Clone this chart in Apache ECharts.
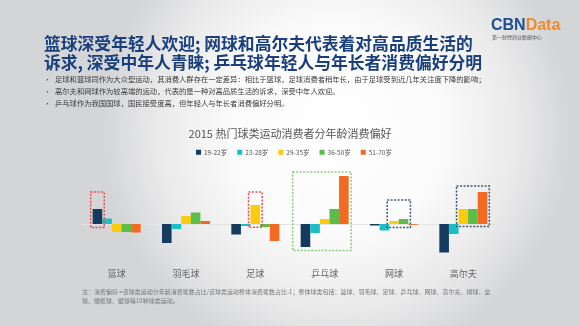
<!DOCTYPE html>
<html>
<head>
<meta charset="utf-8">
<script src="https://cdn.jsdelivr.net/npm/echarts@6/dist/echarts.min.js"></script>
<style>
  html, body { margin: 0; padding: 0; }
  #main { width: 580px; height: 326px; }
</style>
</head>
<body>
<div id="main"></div>
<script>
// Sports and age groups
const categories = ['篮球', '羽毛球', '足球', '乒乓球', '网球', '高尔夫'];
const ageGroups = ['19-22岁', '23-28岁', '29-35岁', '36-50岁', '51-70岁'];

// Consumption preference by age group (%), one array per age group
const age19_22 = [15, -19, -10.5, -23, -1.5, -28.5];
const age23_28 = [5.5, -5, -2, -9, -6.5, -10];
const age29_35 = [-8, 8, 19, 5, 3, 15];
const age36_50 = [-8, 11.5, -3, 15, 5, 15];
const age51_70 = [-8.5, 3, -17, 48, -0.8, 32];
const seriesValues = [age19_22, age23_28, age29_35, age36_50, age51_70];

// Highlight boxes: category, first/last age group covered, value range
const highlights = [
  { cat: 0, from: 0, to: 0, top: 32, bottom: -3.5, tone: 'red' },
  { cat: 2, from: 2, to: 2, top: 32, bottom: -3.3, tone: 'red' },
  { cat: 3, from: 0, to: 4, top: 52, bottom: -26.5, tone: 'green' },
  { cat: 4, from: 2, to: 3, top: 24, bottom: -3.5, tone: 'slate' },
  { cat: 5, from: 2, to: 4, top: 38, bottom: -2.5, tone: 'slate' }
];

const headline = [
  '篮球深受年轻人欢迎; 网球和高尔夫代表着对高品质生活的',
  '诉求, 深受中年人青睐; 乒乓球年轻人与年长者消费偏好分明'
];
const bullets = [
  '足球和篮球同作为大众型运动，其消费人群存在一定差异：相比于篮球，足球消费者稍年长，由于足球受到近几年关注度下降的影响；',
  '高尔夫和网球作为较高端的运动，代表的是一种对高品质生活的诉求，深受中年人欢迎。',
  '乒乓球作为我国国球，国民接受度高，但年轻人与年长者消费偏好分明。'
];
const chartTitle = '2015 热门球类运动消费者分年龄消费偏好';
const footnote = [
  '注：消费偏好 =该球类运动分年龄消费笔数占比/该球类运动整体消费笔数占比-1；整体球类包括：篮球、羽毛球、足球、乒乓球、网球、高尔夫、排球、垒',
  '球、橄榄球、壁球等10种球类运动。'
];

const palette = ['#143b5d', '#1bc0c6', '#fccb0c', '#5cbd48', '#f26a22'];
const toneColors = { red: '#e2505a', green: '#8ccf7b', slate: '#3f5a72' };
const BAR_W = 9.6;
const FONT = '"Noto Sans CJK SC", "Noto Sans", sans-serif';

const chart = echarts.init(document.getElementById('main'), null, { renderer: 'canvas' });

const barSeries = ageGroups.map((name, i) => ({
  name: name,
  type: 'bar',
  data: seriesValues[i],
  barWidth: BAR_W,
  barGap: '0%',
  itemStyle: { color: palette[i] },
  z: 2,
  markLine: i === 0 ? {
    silent: true,
    symbol: 'none',
    label: { show: false },
    lineStyle: { color: '#e4e4e4', width: 1, type: 'solid' },
    data: [{ yAxis: 0 }],
    z: 1
  } : undefined
}));

const boxSeries = {
  type: 'custom',
  name: 'highlight',
  silent: true,
  clip: false,
  z: 5,
  encode: { x: 0, y: [3, 4] },
  data: highlights.map(h => [h.cat, h.from, h.to, h.top, h.bottom, h.tone]),
  renderItem: function (params, api) {
    const cat = api.value(0);
    const from = api.value(1);
    const to = api.value(2);
    const pTop = api.coord([cat, api.value(3)]);
    const pBot = api.coord([cat, api.value(4)]);
    const tone = highlights[params.dataIndex].tone;
    const wide = to - from >= 4;
    const padL = wide ? 8 : 2;
    const padR = wide ? 2.5 : 2;
    const groupLeft = pTop[0] - 2.5 * BAR_W;
    const x0 = groupLeft + from * BAR_W - padL;
    const x1 = groupLeft + (to + 1) * BAR_W + padR;
    return {
      type: 'rect',
      shape: { x: x0, y: pTop[1], width: x1 - x0, height: pBot[1] - pTop[1] },
      style: { fill: 'none', stroke: toneColors[tone], lineWidth: 1.5, lineDash: [2, 1.5] }
    };
  }
};

const textEls = [];
headline.forEach((line, i) => {
  textEls.push({
    type: 'text', x: 44, y: 44 + i * 19,
    style: {
      text: line, font: 'bold 16.8px ' + FONT, fill: '#1a3f7d',
      textVerticalAlign: 'middle'
    }
  });
});
bullets.forEach((line, i) => {
  textEls.push({
    type: 'text', x: 44, y: 79 + i * 12,
    style: { text: '•', font: '7px ' + FONT, fill: '#444', textVerticalAlign: 'middle' }
  });
  textEls.push({
    type: 'text', x: 55, y: 79 + i * 12,
    style: { text: line, font: '7.3px ' + FONT, fill: '#3a3a3a', textVerticalAlign: 'middle' }
  });
});
footnote.forEach((line, i) => {
  textEls.push({
    type: 'text', x: 82, y: 292 + i * 8.5,
    style: { text: line, font: '6px ' + FONT, fill: '#777', textVerticalAlign: 'middle' }
  });
});
// Brand mark
textEls.push({
  type: 'text', x: 491, y: 26,
  style: {
    text: '{a|CBN}{b|Data}',
    textVerticalAlign: 'middle',
    rich: {
      a: { fontFamily: '"Liberation Sans", Arial, sans-serif', fontWeight: 'bold', fontSize: 16, fill: '#1f4f92', color: '#1f4f92' },
      b: { fontFamily: '"Liberation Sans", Arial, sans-serif', fontWeight: 'bold', fontSize: 16, fill: '#f0892a', color: '#f0892a' }
    }
  }
});
textEls.push({
  type: 'text', x: 492, y: 37.5,
  style: { text: '第一财经商业数据中心', font: '5px ' + FONT, fill: '#555', textVerticalAlign: 'middle' }
});

const option = {
  animation: false,
  backgroundColor: new echarts.graphic.RadialGradient(0.58, 0.4, 0.72, [
    { offset: 0, color: '#ffffff' },
    { offset: 0.45, color: '#fbfbfb' },
    { offset: 0.78, color: '#e9e9ea' },
    { offset: 1, color: '#d4d5d7' }
  ]),
  textStyle: { fontFamily: FONT },
  title: {
    text: chartTitle,
    left: 'center',
    top: 123,
    textStyle: { fontSize: 11, fontWeight: 'normal', color: '#555', fontFamily: FONT }
  },
  legend: {
    data: ageGroups,
    left: 196,
    top: 149,
    padding: 0,
    icon: 'rect',
    itemWidth: 5,
    itemHeight: 5,
    itemGap: 10,
    textStyle: { fontSize: 6.5, color: '#555', fontFamily: FONT, padding: [0, 0, 0, -2] }
  },
  grid: { left: 82, right: 82, top: 174, bottom: 72 },
  xAxis: {
    type: 'category',
    data: categories,
    axisLine: { show: false },
    axisTick: { show: false },
    axisLabel: { color: '#666', fontSize: 9, margin: 15, fontFamily: FONT }
  },
  yAxis: {
    type: 'value',
    min: -30,
    max: 50,
    show: false,
    splitLine: { show: false }
  },
  graphic: textEls,
  series: barSeries.concat([boxSeries])
};

chart.setOption(option);
</script>
</body>
</html>
